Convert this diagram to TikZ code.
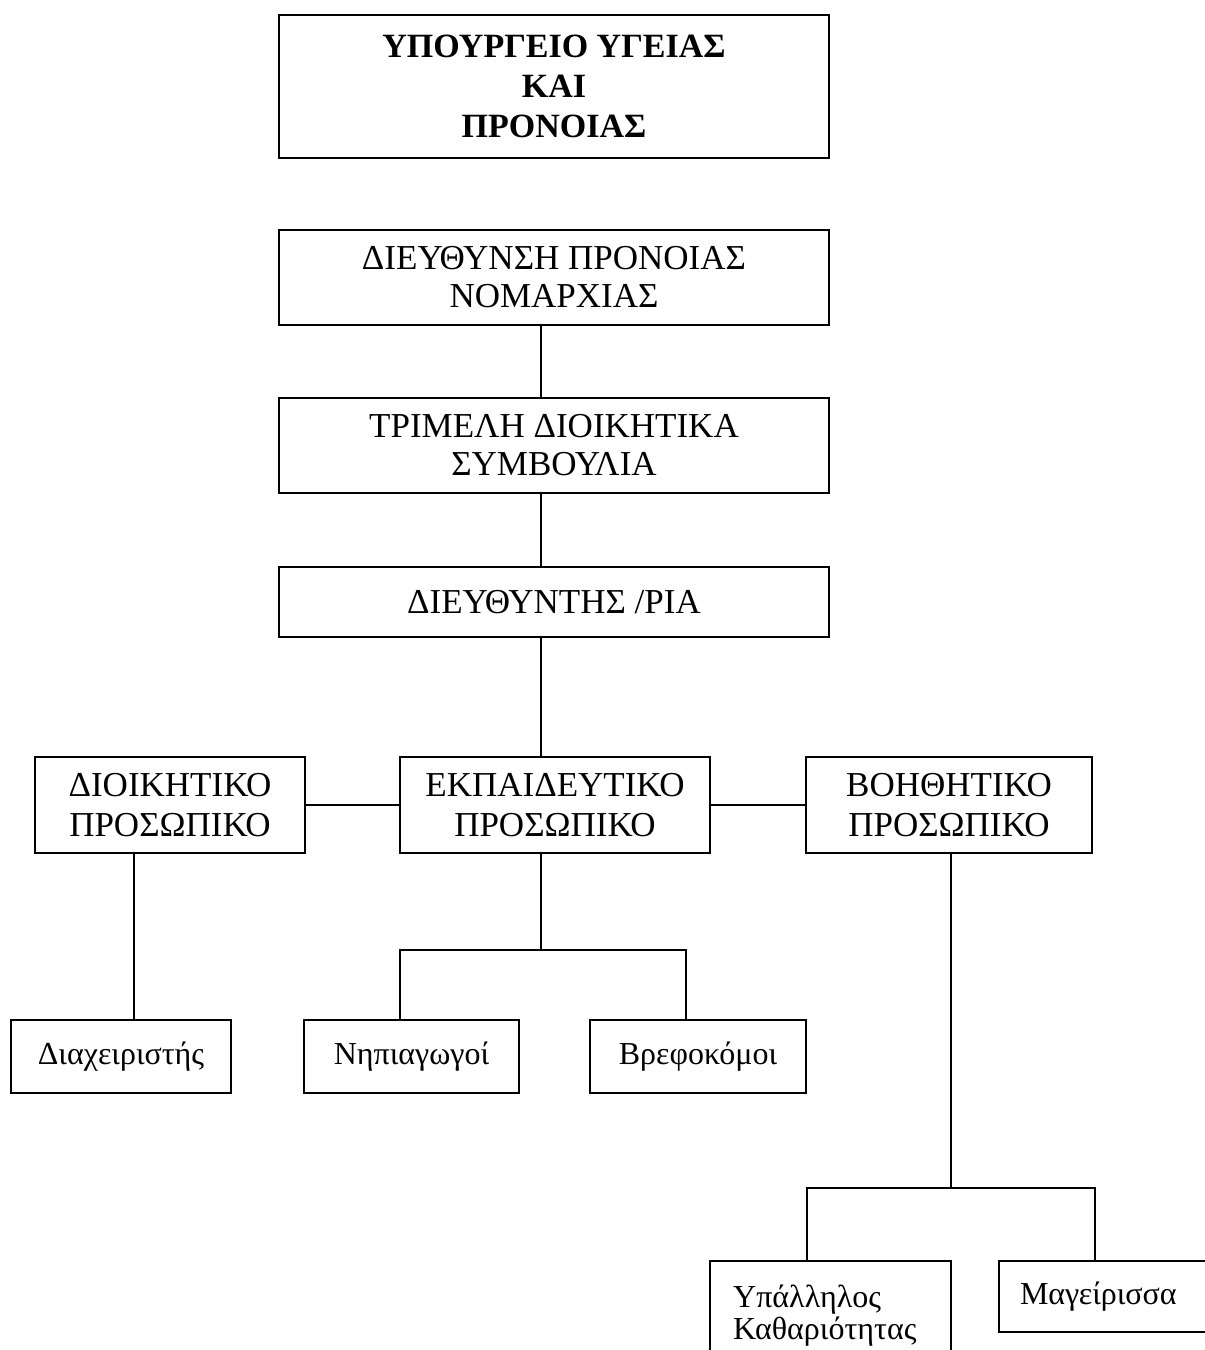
\documentclass[tikz,border=0pt]{standalone}
\usepackage{fontspec}
\setmainfont{Liberation Serif}
\begin{document}
\begin{tikzpicture}[x=1pt,y=-1pt,
  box/.style={draw=black, line width=1.9pt, rectangle, inner sep=0pt, align=center, text=black},
  big/.style={font=\fontsize{35}{38}\selectfont},
  staff/.style={font=\fontsize{35}{40}\selectfont},
  small/.style={font=\fontsize{32}{32}\selectfont},
  conn/.style={draw=black, line width=1.9pt}]
\useasboundingbox (0,0) rectangle (1205,1350);
\fill[white] (0,0) rectangle (1205,1350);
% top level
\node[box, minimum width=550pt, minimum height=143pt, font=\bfseries\fontsize{34}{40}\selectfont] (min) at (554,86.5) {ΥΠΟΥΡΓΕΙΟ ΥΓΕΙΑΣ\\ΚΑΙ\\ΠΡΟΝΟΙΑΣ};
\node[box, big, minimum width=550pt, minimum height=95pt] (dir) at (554,277.5) {ΔΙΕΥΘΥΝΣΗ ΠΡΟΝΟΙΑΣ\\ΝΟΜΑΡΧΙΑΣ};
\node[box, big, minimum width=550pt, minimum height=95pt] (tri) at (554,445.5) {ΤΡΙΜΕΛΗ ΔΙΟΙΚΗΤΙΚΑ\\ΣΥΜΒΟΥΛΙΑ};
\node[box, big, minimum width=550pt, minimum height=70pt] (dnt) at (554,602) {ΔΙΕΥΘΥΝΤΗΣ /ΡΙΑ};
% staff
\node[box, staff, minimum width=270pt, minimum height=96pt] (dioik) at (170,805) {ΔΙΟΙΚΗΤΙΚΟ\\ΠΡΟΣΩΠΙΚΟ};
\node[box, staff, minimum width=310pt, minimum height=96pt] (ekp) at (555,805) {ΕΚΠΑΙΔΕΥΤΙΚΟ\\ΠΡΟΣΩΠΙΚΟ};
\node[box, staff, minimum width=286pt, minimum height=96pt] (voith) at (949,805) {ΒΟΗΘΗΤΙΚΟ\\ΠΡΟΣΩΠΙΚΟ};
% bottom
\node[box, small, minimum width=220pt, minimum height=73pt] (diax) at (121,1056.5) {Διαχειριστής};
\node[box, small, minimum width=215pt, minimum height=73pt] (nip) at (411.5,1056.5) {Νηπιαγωγοί};
\node[box, small, minimum width=216pt, minimum height=73pt] (vref) at (698,1056.5) {Βρεφοκόμοι};
\node[box, minimum width=241pt, minimum height=110pt] (ypal) at (830.5,1316) {};
\node[small, align=left, anchor=base west, inner sep=0pt] (ypaltext) at (733,1339) {Υπάλληλος\\Καθαριότητας};
\node[box, small, text width=174pt, inner xsep=21pt, align=left, minimum height=71pt] (mag) at (1107,1296.5) {Μαγείρισσα};
% connector helpers
\coordinate (spine) at (541,0);
\coordinate (ekpbar) at (0,950);
\coordinate (voibar) at (0,1188);
% connectors
\draw[conn] (dir.south -| spine) -- (tri.north -| spine);
\draw[conn] (tri.south -| spine) -- (dnt.north -| spine);
\draw[conn] (dnt.south -| spine) -- (ekp.north -| spine);
\draw[conn] (dioik.east) -- (ekp.west);
\draw[conn] (ekp.east) -- (voith.west);
\coordinate (dx) at (134,0);
\draw[conn] (dioik.south -| dx) -- (diax.north -| dx);
\coordinate (nx) at (400,0);
\coordinate (vx) at (686,0);
\draw[conn] (ekp.south -| spine) -- (ekpbar -| spine);
\draw[conn] (nip.north -| nx) -- (ekpbar -| nx) -- (ekpbar -| vx) -- (vref.north -| vx);
\coordinate (bx) at (951,0);
\coordinate (yx) at (807,0);
\coordinate (mx) at (1095,0);
\draw[conn] (voith.south -| bx) -- (voibar -| bx);
\draw[conn] (ypal.north -| yx) -- (voibar -| yx) -- (voibar -| mx) -- (mag.north -| mx);
\end{tikzpicture}
\end{document}
